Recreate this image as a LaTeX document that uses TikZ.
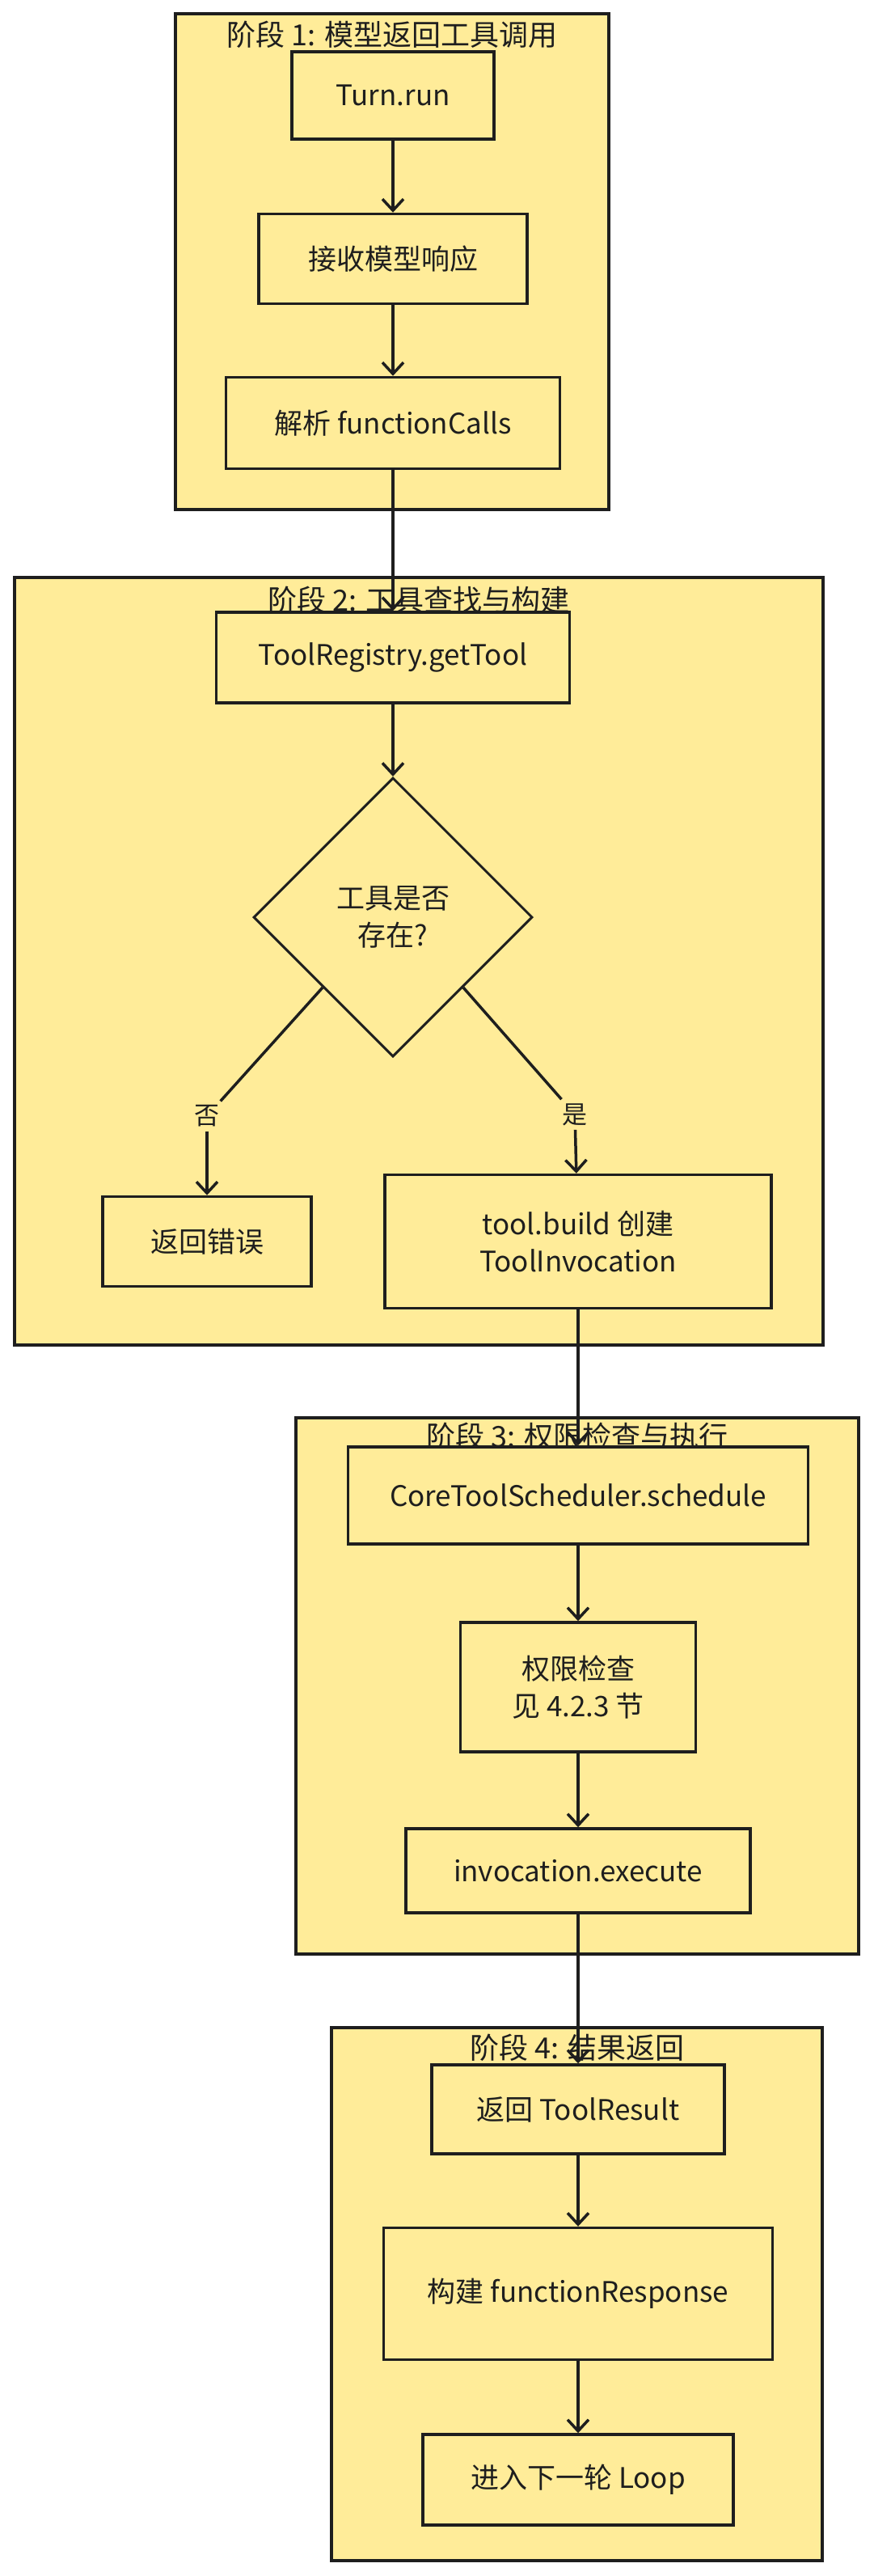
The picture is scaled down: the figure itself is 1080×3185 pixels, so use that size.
\documentclass[tikz,border=0pt]{standalone}
\usepackage{fontspec}
\setmainfont{Noto Sans CJK SC}
\usetikzlibrary{shapes.geometric,arrows.meta}
\definecolor{paper}{HTML}{FFEC99}
\definecolor{ink}{HTML}{1E1E1E}

\begin{document}
\begin{tikzpicture}[x=1pt,y=-1pt,
    stage/.style={draw=ink,fill=paper,line width=3.5pt},
    stagetitle/.style={font=\fontsize{36}{42}\selectfont,text=ink,inner sep=0pt},
    proc/.style={draw=ink,fill=paper,line width=3.5pt,rectangle,inner sep=0pt,align=center,font=\fontsize{35}{46}\selectfont,text=ink},
    plain/.style={draw=ink,line width=3.5pt},
    flow/.style={plain,-{Straight Barb[length=14pt,width=26pt,line width=3.5pt]}},
    branch/.style={font=\fontsize{31}{36}\selectfont,text=ink,inner sep=5pt}]
    % page with the reference margins
    \useasboundingbox (0,0) rectangle (1080,3185);
    \fill[white] (0,0) rectangle (1080,3185);

    % stage frames + titles
    \draw[stage] (217,17) rectangle (753,630);
    \draw[stage] (18,714) rectangle (1018,1663);
    \draw[stage] (366,1753) rectangle (1062,2416);
    \draw[stage] (410,2507) rectangle (1017,3166);
    \node[stagetitle] (t1) at (485,43) {阶段 1: 模型返回工具调用};
    \node[stagetitle] (t2) at (518,742) {阶段 2: 工具查找与构建};
    \node[stagetitle] (t3) at (714,1776) {阶段 3: 权限检查与执行};
    \node[stagetitle] (t4) at (714,2532) {阶段 4: 结果返回};

    % stage 1
    \node[proc,minimum width=250,minimum height=108] (turn) at (486,118) {Turn.run};
    \node[proc,minimum width=332,minimum height=111] (recv) at (486,320) {接收模型响应};
    \node[proc,minimum width=413,minimum height=113] (parse) at (486,523) {解析 functionCalls};

    % stage 2
    \node[proc,minimum width=437,minimum height=112] (lookup) at (486,813) {ToolRegistry.getTool};
    \node[proc,diamond,aspect=1,line width=3pt,minimum width=345,minimum height=345] (found) at (486,1134) {工具是否\\存在?};
    \node[proc,minimum width=258,minimum height=111] (err) at (256,1535) {返回错误};
    \node[proc,minimum width=478,minimum height=165] (build) at (715,1535) {tool.build 创建\\ToolInvocation};
    \node[branch] (no) at (256,1380) {否};
    \node[branch] (yes) at (711,1378) {是};

    % stage 3
    \node[proc,minimum width=569,minimum height=120] (sched) at (715,1849) {CoreToolScheduler.schedule};
    \node[proc,minimum width=291,minimum height=160] (perm) at (715,2086) {权限检查\\见 4.2.3 节};
    \node[proc,minimum width=426,minimum height=104] (exec) at (715,2313) {invocation.execute};

    % stage 4
    \node[proc,minimum width=362,minimum height=110] (result) at (715,2608) {返回 ToolResult};
    \node[proc,minimum width=481,minimum height=163] (resp) at (715,2836) {构建 functionResponse};
    \node[proc,minimum width=384,minimum height=112] (loop) at (715,3066) {进入下一轮 Loop};

    % connectors
    \draw[flow] (turn) -- (recv);
    \draw[flow] (recv) -- (parse);
    \draw[flow] (parse) -- (lookup);
    \draw[flow] (lookup) -- (found);
    \draw[plain] (found.south west) -- (no);
    \draw[flow] (no) -- (err);
    \draw[plain] (found.south east) -- (yes);
    \draw[flow] (yes) -- (build);
    \draw[flow] (build) -- (sched);
    \draw[flow] (sched) -- (perm);
    \draw[flow] (perm) -- (exec);
    \draw[flow] (exec) -- (result);
    \draw[flow] (result) -- (resp);
    \draw[flow] (resp) -- (loop);
\end{tikzpicture}
\end{document}
